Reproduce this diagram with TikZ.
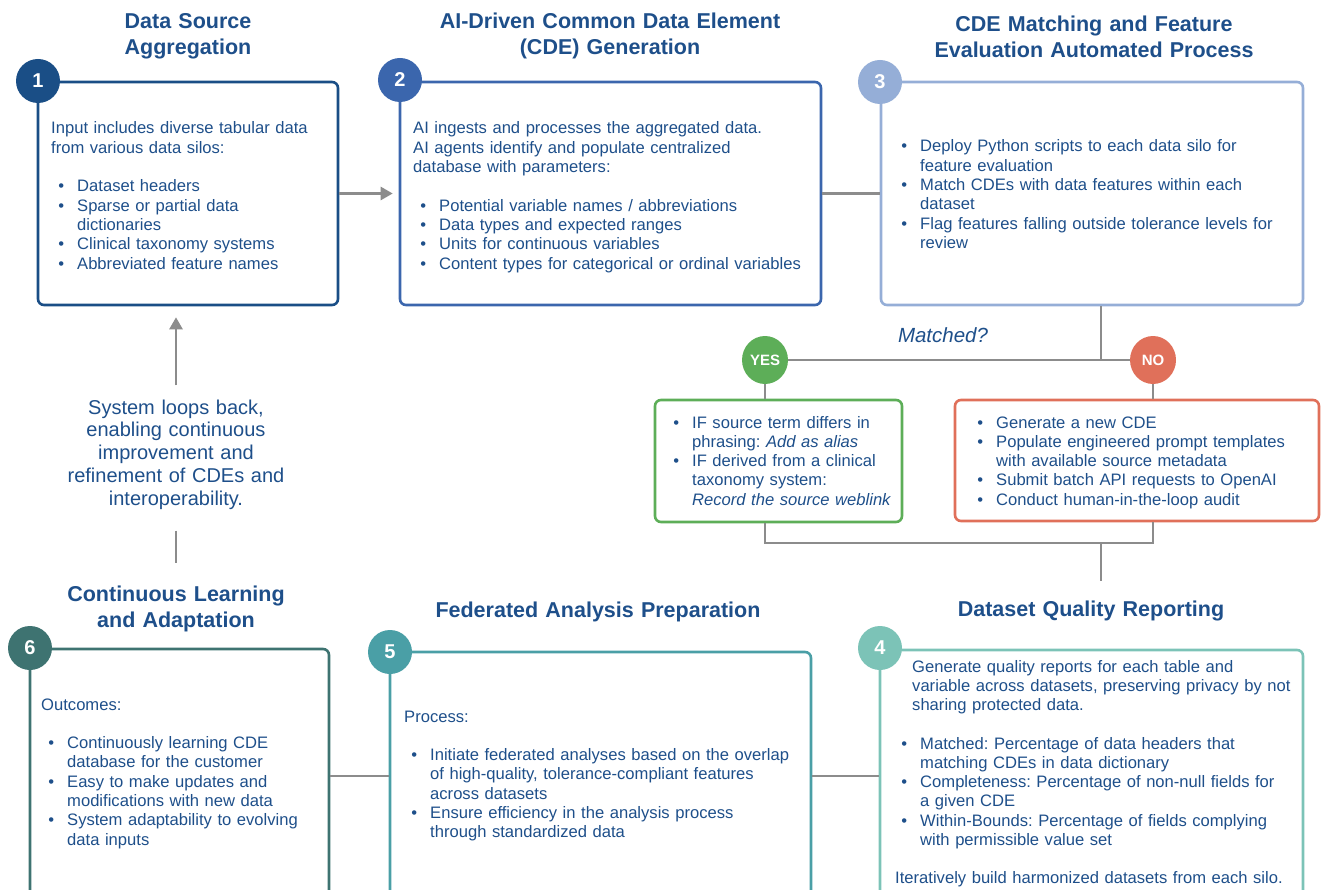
\documentclass[tikz,border=0pt]{standalone}
\usepackage{fontspec}
\setmainfont{Liberation Sans}
\usetikzlibrary{arrows.meta,shapes.geometric}
\definecolor{txt}{HTML}{1E4F8A}
\definecolor{cA}{HTML}{1A4E86}
\definecolor{cB}{HTML}{3B66AD}
\definecolor{cC}{HTML}{95AED7}
\definecolor{cD}{HTML}{7CC3B7}
\definecolor{cE}{HTML}{4A9FA6}
\definecolor{cF}{HTML}{3E7371}
\definecolor{gline}{HTML}{8C8C8C}
\definecolor{yesc}{HTML}{5DAE58}
\definecolor{noc}{HTML}{E0705A}
\newlength\bulind \setlength\bulind{26pt}
\newlength\bulgap \setlength\bulgap{13pt}
\newcommand\bul[1]{\hangindent=\bulind\hangafter=0\noindent\llap{\textbullet\hspace{\bulgap}}#1\par}
\newcommand\gap{\par\vskip 19.3pt}
\frenchspacing
\tikzset{
  x=1pt, y=-1pt,
  box/.style={draw=#1, line width=2.6pt, rounded corners=6pt, rectangle, inner sep=0pt},
  num/.style={circle, fill=#1, minimum size=44pt, inner sep=0pt, text=white, font=\fontsize{20}{20}\selectfont\bfseries},
  yn/.style={ellipse, fill=#1, minimum width=46pt, minimum height=48pt, inner sep=0pt, text=white, font=\fontsize{15}{15}\selectfont\bfseries},
  body/.style={anchor=base west, inner sep=0pt, text width=440pt, align=left, text=txt, font=\fontsize{16.6}{19.3}\selectfont\frenchspacing},
  ttl/.style={anchor=base, inner sep=0pt, text width=520pt, align=center, text=txt, font=\fontsize{21.5}{26}\selectfont\bfseries},
  gl/.style={draw=gline, line width=2.5pt},
  garr/.style={gl, -{Triangle[length=12pt,width=13pt]}}
}
\begin{document}
\begin{tikzpicture}
\useasboundingbox (0,0) rectangle (1324,890);
\clip (0,0) rectangle (1324,890);
% boxes
\node[box=cA, minimum width=300pt, minimum height=223pt] (b1) at (188,193.5) {};
\node[box=cB, minimum width=421pt, minimum height=223pt] (b2) at (610.5,193.5) {};
\node[box=cC, minimum width=422pt, minimum height=223pt] (b3) at (1092,193.5) {};
\node[box=yesc, minimum width=247pt, minimum height=122pt] (ybox) at (778.5,461) {};
\node[box=noc, minimum width=364pt, minimum height=121pt] (nbox) at (1137,460.5) {};
\node[box=cD, minimum width=423pt, minimum height=252pt] (b4) at (1091.5,776) {};
\node[box=cE, minimum width=421pt, minimum height=248pt] (b5) at (600.5,776) {};
\node[box=cF, minimum width=299pt, minimum height=254pt] (b6) at (179.5,776) {};
% yes/no
\node[yn=yesc] (yes) at (765,360) {YES};
\node[yn=noc] (no) at (1153,360) {NO};
\node[inner sep=0pt, text=txt, font=\fontsize{20.5}{24}\selectfont\itshape] (mq) at (943,335) {Matched?};
% loop text
\node[anchor=base, inner sep=0pt, text width=260pt, align=center, text=txt, font=\fontsize{20}{22.8}\selectfont] (loop) at (176,414) {System loops back,\\enabling continuous\\improvement and\\refinement of CDEs and\\interoperability.};
% connectors
\coordinate (jn) at (1101,360);
\coordinate (jb) at (1101,543);
\coordinate (jc) at (1101,581);
\coordinate (lb) at (176,563);
\draw[garr, shorten >=6pt] (b1.east) -- (b2.west);
\draw[gl] (b2.east) -- (b3.west);
\draw[gl] (b3.south -| jn) -- (jn);
\draw[gl] (yes) -- (no);
\draw[gl] (yes) -- (ybox.north -| yes);
\draw[gl] (no) -- (nbox.north -| no);
\draw[gl] (ybox.south -| yes) -- (yes |- jb) -- (no |- jb) -- (nbox.south -| no);
\draw[gl] (jb) -- (jc);
\draw[gl] (b6.east) -- (b5.west);
\draw[gl] (b5.east) -- (b4.west);
\draw[garr, shorten <=14pt, shorten >=11pt] (loop.north) -- (loop.north |- b1.south);
\draw[gl, shorten <=21pt] (loop.south) -- (lb);
% number circles
\node[num=cA] (n1) at (38,81) {1};
\node[num=cB] (n2) at (400,80) {2};
\node[num=cC] (n3) at (880,82) {3};
\node[num=cD] (n4) at (880,648) {4};
\node[num=cE] (n5) at (390,652) {5};
\node[num=cF] (n6) at (30,648) {6};
% titles
\node[ttl] (t1) at (188,29) {Data Source\\Aggregation};
\node[ttl] (t2) at (610,29) {AI-Driven Common Data Element\\(CDE) Generation};
\node[ttl] (t3) at (1094,32) {CDE Matching and Feature\\Evaluation Automated Process};
\node[ttl] (t6) at (176,601) {Continuous Learning\\and Adaptation};
\node[ttl] (t5) at (598,617) {Federated Analysis Preparation};
\node[ttl] (t4) at (1091,616) {Dataset Quality Reporting};
% body texts
\node[body] (x1) at (51,134) {Input includes diverse tabular data\\from various data silos:\gap
\bul{Dataset headers}\bul{Sparse or partial data\newline dictionaries}\bul{Clinical taxonomy systems}\bul{Abbreviated feature names}};
\node[body] (x2) at (413,134) {AI ingests and processes the aggregated data.\\AI agents identify and populate centralized\\database with parameters:\gap
\bul{Potential variable names / abbreviations}\bul{Data types and expected ranges}\bul{Units for continuous variables}\bul{Content types for categorical or ordinal variables}};
\node[body] (x3) at (894,152) {\bul{Deploy Python scripts to each data silo for\newline feature evaluation}\bul{Match CDEs with data features within each\newline dataset}\bul{Flag features falling outside tolerance levels for\newline review}};
\node[body] (xy) at (666,428) {\bul{IF source term differs in\newline phrasing: \textit{Add as alias}}\bul{IF derived from a clinical\newline taxonomy system:\newline \textit{Record the source weblink}}};
\node[body] (xn) at (970,428) {\bul{Generate a new CDE}\bul{Populate engineered prompt templates\newline with available source metadata}\bul{Submit batch API requests to OpenAI}\bul{Conduct human-in-the-loop audit}};
\node[body] (x4a) at (912,672) {Generate quality reports for each table and\\variable across datasets, preserving privacy by not\\sharing protected data.};
\node[body] (x4b) at (894,749) {\bul{Matched: Percentage of data headers that\newline matching CDEs in data dictionary}\bul{Completeness: Percentage of non-null fields for\newline a given CDE}\bul{Within-Bounds: Percentage of fields complying\newline with permissible value set}};
\node[body] (x4c) at (895,883) {Iteratively build harmonized datasets from each silo.};
\node[body] (x5) at (404,722) {Process:\gap
\bul{Initiate federated analyses based on the overlap\newline of high-quality, tolerance-compliant features\newline across datasets}\bul{Ensure efficiency in the analysis process\newline through standardized data}};
\node[body] (x6) at (41,710) {Outcomes:\gap
\bul{Continuously learning CDE\newline database for the customer}\bul{Easy to make updates and\newline modifications with new data}\bul{System adaptability to evolving\newline data inputs}};
\end{tikzpicture}
\end{document}
